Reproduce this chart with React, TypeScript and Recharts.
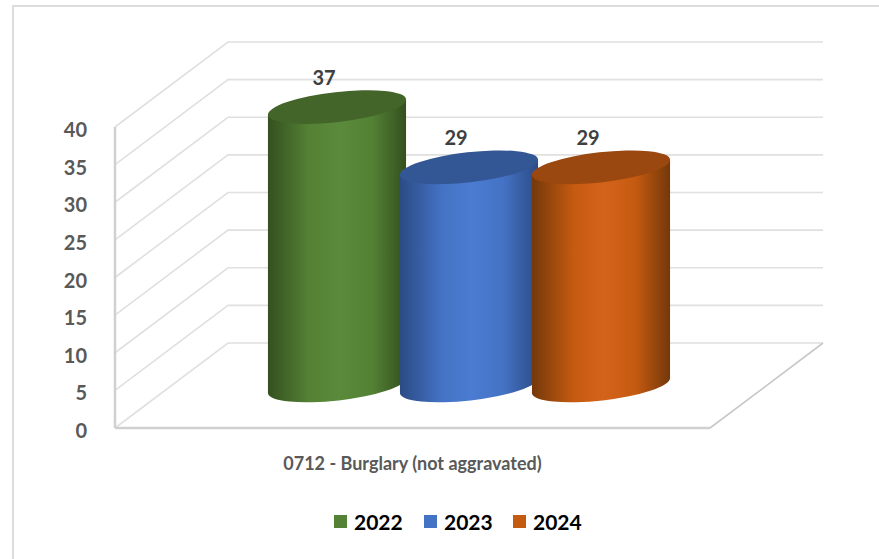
import React from 'react';
import {
  BarChart,
  Bar,
  XAxis,
  YAxis,
  CartesianGrid,
  Legend,
  LabelList,
} from 'recharts';

const categories = ['0712 - Burglary (not aggravated)'];
const years = ['2022', '2023', '2024'];
const values2022 = [37];
const values2023 = [29];
const values2024 = [29];
const yTicks = [0, 5, 10, 15, 20, 25, 30, 35, 40];

const data = categories.map((name, i) => ({
  name,
  '2022': values2022[i],
  '2023': values2023[i],
  '2024': values2024[i],
}));

const legendColors = ['#548235', '#4472C4', '#C55A11'];
const edgeColors = ['#34501f', '#2b4b85', '#74380a'];
const midColors = ['#5b8a3c', '#4b7cd2', '#d4631a'];
const capColors = ['#43652a', '#335694', '#9a480f'];

// the 3d depth of the walls and floor
const DEPTH_X = 113;
const DEPTH_Y = 85;
const TILT = -6.5;
const RY = 15;

const fontFamily = 'Lato, sans-serif';

const WallLine = (props: any) => {
  const { x1, x2, y1 } = props;
  const isFloor = Math.abs(y1 - 428) < 1;
  return (
    <g>
      <path
        d={`M${x1} ${y1} L${x1 + DEPTH_X} ${y1 - DEPTH_Y} L${x2 + DEPTH_X} ${y1 - DEPTH_Y}`}
        fill="none"
        stroke="#e0e0e0"
        strokeWidth={1.6}
      />
      {isFloor && (
        <line
          x1={x2}
          y1={y1}
          x2={x2 + DEPTH_X}
          y2={y1 - DEPTH_Y}
          stroke="#c8c8c8"
          strokeWidth={1.6}
        />
      )}
    </g>
  );
};

const Cylinder = (props: any) => {
  const { x, y, width, height, index, gradient, cap } = props;
  const rx = width / 2;
  const cx = x + rx + DEPTH_X / 2;
  const top = y - DEPTH_Y / 2;
  const bottom = y + height - DEPTH_Y / 2;
  const rad = (TILT * Math.PI) / 180;
  const dx = rx * Math.cos(rad);
  const dy = rx * Math.sin(rad);
  return (
    <g key={index}>
      <path
        d={`M${cx - dx} ${top - dy} L${cx - dx} ${bottom - dy} A${rx} ${RY} ${TILT} 0 0 ${cx + dx} ${bottom + dy} L${cx + dx} ${top + dy} Z`}
        fill={`url(#${gradient})`}
      />
      <ellipse
        cx={cx}
        cy={top}
        rx={rx}
        ry={RY}
        fill={cap}
        transform={`rotate(${TILT} ${cx} ${top})`}
      />
    </g>
  );
};

const CylinderLabel = (props: any) => {
  const { x, y, width, value } = props;
  return (
    <text
      x={x + width / 2 + DEPTH_X / 2 - 13}
      y={y - DEPTH_Y / 2 - 30}
      textAnchor="middle"
      dominantBaseline="central"
      fill="#404040"
      fontFamily={fontFamily}
      fontWeight={700}
      fontSize={20}
    >
      {value}
    </text>
  );
};

const LegendRow = ({ payload }: any) => (
  <div style={{ position: 'relative', height: 30, fontFamily }}>
    {(payload || []).map((item: any, i: number) => (
      <div
        key={item.value}
        style={{
          position: 'absolute',
          left: [334, 424, 513][i],
          top: 0,
          display: 'flex',
          alignItems: 'center',
          height: 30,
        }}
      >
        <span style={{ width: 13, height: 13, background: item.color, marginRight: 7 }} />
        <span style={{ color: '#000', fontWeight: 700, fontSize: 21 }}>{item.value}</span>
      </div>
    ))}
  </div>
);

export default function App() {
  return (
    <div style={{ position: 'absolute', left: 0, top: 0, width: 879, height: 559, background: '#fff', overflow: 'hidden' }}>
      <div
        style={{
          position: 'absolute',
          left: 12,
          top: 5,
          width: 900,
          height: 600,
          border: '2px solid #dcdcdc',
          boxSizing: 'border-box',
        }}
      />
      <div style={{ position: 'absolute', left: 0, top: 0 }}>
        <BarChart
          width={879}
          height={559}
          data={data}
          barSize={139}
          barGap={-7}
          margin={{ top: 127, right: 169, bottom: 0, left: 0 }}
        >
          <defs>
            {years.map((year, i) => (
              <linearGradient key={year} id={`cyl${year}`} x1="0" y1="0" x2="1" y2="0">
                <stop offset="0%" stopColor={edgeColors[i]} />
                <stop offset="30%" stopColor={legendColors[i]} />
                <stop offset="52%" stopColor={midColors[i]} />
                <stop offset="75%" stopColor={legendColors[i]} />
                <stop offset="100%" stopColor={edgeColors[i]} />
              </linearGradient>
            ))}
          </defs>
          <CartesianGrid vertical={false} horizontal={WallLine} syncWithTicks />
          <XAxis
            dataKey="name"
            interval={0}
            height={101}
            tickLine={false}
            tickMargin={23}
            axisLine={{ stroke: '#d0d0d0', strokeWidth: 2.5 }}
            tick={{ fill: '#595959', fontFamily, fontWeight: 700, fontSize: 18 }}
          />
          <YAxis
            domain={[0, 40]}
            ticks={yTicks}
            width={115}
            tickLine={false}
            tickMargin={22}
            axisLine={{ stroke: '#d0d0d0', strokeWidth: 2.5 }}
            tick={{ fill: '#595959', fontFamily, fontWeight: 700, fontSize: 20, dy: 3 }}
          />
          <Legend
            verticalAlign="bottom"
            height={30}
            content={LegendRow}
            wrapperStyle={{ left: 0, width: 879, bottom: 23 }}
          />
          {years.map((year, i) => (
            <Bar
              key={year}
              dataKey={year}
              fill={legendColors[i]}
              isAnimationActive={false}
              shape={(props: any) => (
                <Cylinder {...props} gradient={`cyl${year}`} cap={capColors[i]} />
              )}
            >
              <LabelList dataKey={year} content={CylinderLabel} />
            </Bar>
          ))}
        </BarChart>
      </div>
    </div>
  );
}
